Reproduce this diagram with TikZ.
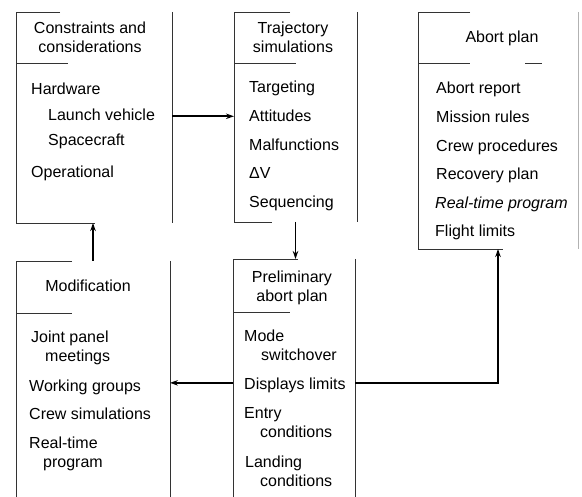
\documentclass[tikz,border=0pt]{standalone}
\usepackage{fontspec}
\setmainfont{Liberation Sans}
\usetikzlibrary{arrows.meta}

\tikzset{
    chart frame/.style={
      rectangle,
      inner sep=0pt,
      outer sep=0pt,
      anchor=north west
    },
    chart edge/.style={
      draw=black!80,
      line width=0.8pt
    },
    chart title/.style={
      font=\fontsize{16}{19}\selectfont,
      align=center,
      inner sep=0pt,
      anchor=base
    },
    chart item/.style={
      font=\fontsize{16}{19.5}\selectfont,
      align=left,
      inner sep=0pt,
      anchor=base west
    },
    chart flow/.style={
      draw=black,
      line width=1.7pt,
      -{Stealth[length=8pt,width=5.5pt]}
    }
  }

\begin{document}
\begin{tikzpicture}[x=1pt,y=-1pt]
      \useasboundingbox (0,0) rectangle (582,497);

      % Rahmen
      \node[chart frame, minimum width=156pt, minimum height=211pt] (cons) at (16,12) {};
      \node[chart frame, minimum width=123pt, minimum height=210pt] (traj) at (234,12) {};
      \node[chart frame, minimum width=160pt, minimum height=237pt] (abort) at (418,12) {};
      \node[chart frame, minimum width=122pt, minimum height=238pt] (prelim) at (233,259) {};
      \node[chart frame, minimum width=154pt, minimum height=236pt] (modif) at (16,261) {};

      \draw[chart edge] (cons.north west) ++(44,0) -- (cons.north west) -- (cons.south west) -- ++(79,0);
      \draw[chart edge] (cons.north west) ++(0,51) -- ++(52,0);
      \draw[chart edge] (cons.north east) -- (cons.south east);

      \draw[chart edge] (traj.north west) ++(56,0) -- (traj.north west) -- (traj.south west) -- ++(38,0);
      \draw[chart edge] (traj.north west) ++(0,51) -- ++(62,0);
      \draw[chart edge] (traj.north east) -- (traj.south east);

      \draw[chart edge] (abort.north west) ++(52,0) -- (abort.north west) -- (abort.south west) -- ++(85,0);
      \draw[chart edge] (abort.north west) ++(0,51) -- ++(52,0);
      \draw[chart edge] (abort.north west) ++(107,51) -- ++(17,0);
      \draw[chart edge, draw=black!30] (abort.north east) -- (abort.south east);

      \draw[chart edge] (prelim.north west) ++(65,0) -- (prelim.north west) -- (prelim.south west);
      \draw[chart edge] (prelim.north west) ++(0,53) -- ++(57,0);
      \draw[chart edge] (prelim.north east) -- (prelim.south east);

      \draw[chart edge] (modif.north west) ++(56,0) -- (modif.north west) -- (modif.south west);
      \draw[chart edge] (modif.north west) ++(0,52) -- ++(56,0);
      \draw[chart edge] (modif.north east) -- (modif.south east);

      % Titel (Grundlinie der letzten Zeile)
      \node[chart title] (cons-title) at (90,53) {Constraints and\\considerations};
      \node[chart title] (traj-title) at (293,53) {Trajectory\\simulations};
      \node[chart title] (abort-title) at (502,43) {Abort plan};
      \node[chart title] (prelim-title) at (292,302) {Preliminary\\abort plan};
      \node[chart title] (modif-title) at (88,292) {Modification};

      % Eintraege
      \node[chart item] (hardware) at (31,95) {Hardware};
      \node[chart item] (launch) at (48,121) {Launch vehicle};
      \node[chart item] (spacecraft) at (48,146) {Spacecraft};
      \node[chart item] (operational) at (31,178) {Operational};

      \node[chart item] (targeting) at (249,93) {Targeting};
      \node[chart item] (attitudes) at (249,122) {Attitudes};
      \node[chart item] (malfunctions) at (249,151) {Malfunctions};
      \node[chart item] (deltav) at (249,179) {ΔV};
      \node[chart item] (sequencing) at (249,208) {Sequencing};

      \node[chart item] (report) at (436,94) {Abort report};
      \node[chart item] (rules) at (436,123) {Mission rules};
      \node[chart item] (crewproc) at (436,152) {Crew procedures};
      \node[chart item] (recovery) at (436,180) {Recovery plan};
      \node[chart item, font=\fontsize{16}{19.5}\selectfont\itshape] (realtime) at (435,209) {Real-time program};
      \node[chart item] (limits) at (435,237) {Flight limits};

      \node[chart item] (mode) at (244,361) {Mode\\\hspace*{17pt}switchover};
      \node[chart item] (displays) at (244,390) {Displays limits};
      \node[chart item] (entry) at (244,438) {Entry\\\hspace*{16pt}conditions};
      \node[chart item] (landing) at (245,487) {Landing\\\hspace*{15pt}conditions};

      \node[chart item] (joint) at (31,362) {Joint panel\\\hspace*{14pt}meetings};
      \node[chart item] (working) at (29,392) {Working groups};
      \node[chart item] (crewsim) at (29,420) {Crew simulations};
      \node[chart item] (realprog) at (29,468) {Real-time\\\hspace*{14pt}program};

      % Pfeile
      \draw[chart flow] ([yshift=-1pt]cons.east |- launch) -- ([yshift=-1pt]traj.west |- launch);
      \draw[chart flow] (traj.south) -- (traj.south |- prelim.north);
      \draw[chart flow] ([yshift=3pt]prelim.east |- displays) -| (abort.south);
      \draw[chart flow] ([yshift=3pt]prelim.west |- displays) -- ([yshift=3pt]modif.east |- displays);
      \draw[chart flow] (modif.north) -- (modif.north |- cons.south);
    \end{tikzpicture}
\end{document}
